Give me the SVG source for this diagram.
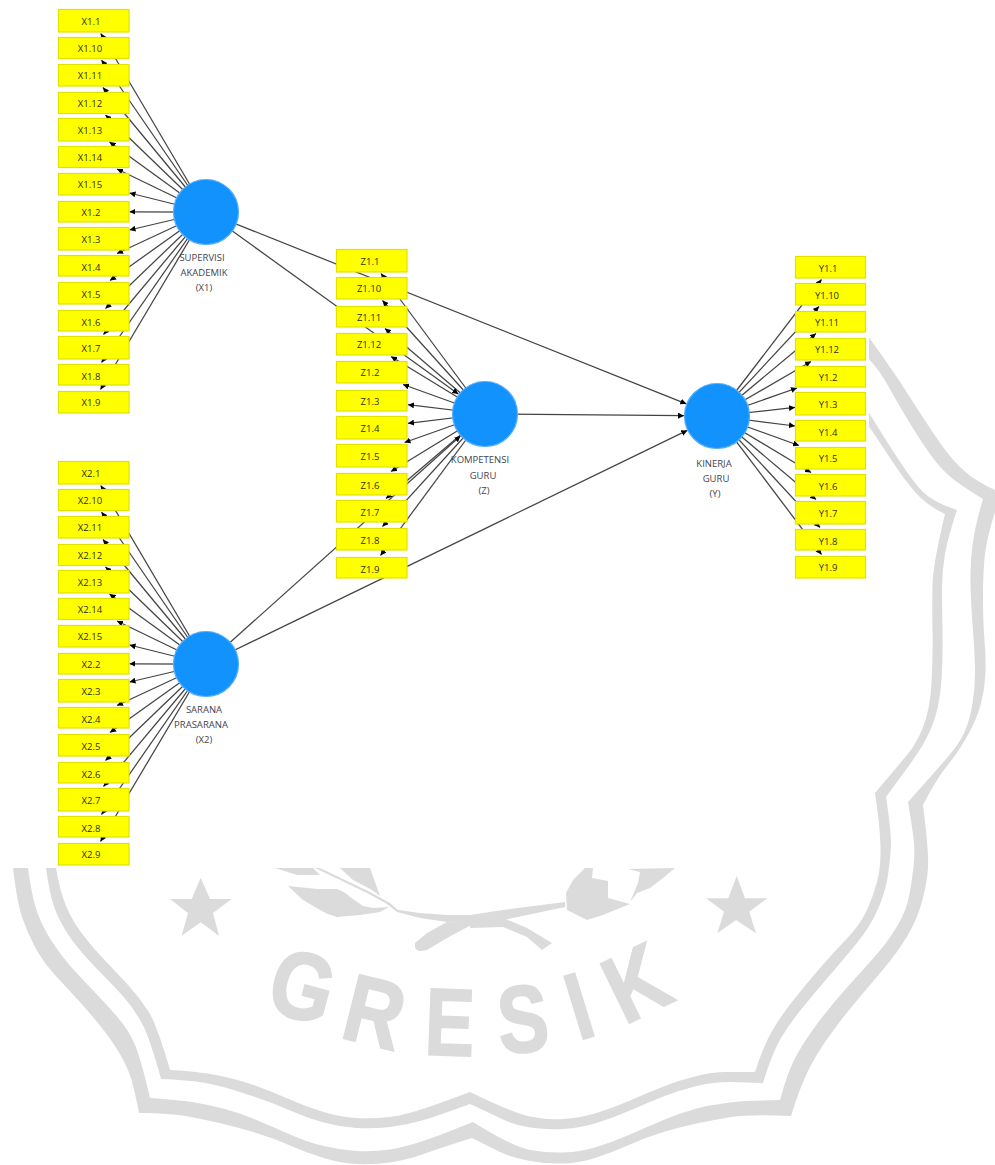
<svg xmlns="http://www.w3.org/2000/svg" width="995" height="1165" viewBox="0 0 995 1165">
<style>
.wm{fill:#dcdbdc;stroke:none}
.wt{font-family:"Liberation Sans",Arial,sans-serif;font-weight:700;font-size:95px;fill:#dcdbdc;stroke:#dcdbdc;stroke-width:2;text-anchor:middle}
.c line{stroke:#444;stroke-width:1.25;marker-end:url(#a)}
.n rect{fill:#ffff00;stroke:#e2e200;stroke-width:1.2}
.n circle{fill:#1292fd;stroke:#58aefc;stroke-width:1.2}
.n text{font-family:"Open Sans","Noto Sans",sans-serif;font-size:9.5px;fill:#2e2e14;text-anchor:middle}
.n text.l{fill:#44444f}
</style>
<defs>
<marker id="a" markerUnits="userSpaceOnUse" markerWidth="7" markerHeight="6" refX="6" refY="3" orient="auto"><path d="M0 0L6 3L0 6Z" fill="#000"/></marker>
</defs>
<g id="watermark">
<path class="wm" d="M13 868Q17 902 22 917Q27 932 35 947Q43 962 55 975Q67 988 78.5 1000.5Q90 1013 101.5 1027.5Q113 1042 120.5 1055Q128 1068 131.5 1080Q135 1092 139 1113Q170 1113 188.5 1116.5Q207 1120 223.5 1124Q240 1128 256.5 1133Q273 1138 290 1145.5Q307 1153 323.5 1158Q340 1163 356.5 1164Q373 1165 390 1162.5Q407 1160 423.5 1154Q440 1148 472 1138L500 1152Q513 1158 530 1161Q547 1164 563.5 1163.5Q580 1163 596.5 1157.5Q613 1152 630 1144.5Q647 1137 663.5 1132Q680 1127 696.5 1123.5Q713 1120 731.5 1117Q750 1114 791 1116Q800 1087 808.5 1070Q817 1053 830 1035Q843 1017 856.5 1001Q870 985 883.5 969Q897 953 907 936.5Q917 920 922 901.5Q927 883 928 868Q929 853 923 805Q937 778 947 766Q957 754 967 736.5Q977 719 981 703.5Q985 688 985.5 672.5Q986 657 984.5 640Q983 623 983 597Q983 571 985 554Q987 537 995 512L995 490Q977 482 965 471.5Q953 461 943 447Q933 433 923 417.5Q913 402 903 386.5Q893 371 869 337.6L869 359Q880 371 888.5 386.5Q897 402 908.5 421Q920 440 930 454Q940 468 950 476.5Q960 485 983 499Q975 526 972.5 545Q970 564 970.5 584.5Q971 605 973 631Q975 657 975 672.5Q975 688 972.5 703.5Q970 719 965 731Q960 743 946.5 758.5Q933 774 908 802Q912 826 913.5 838Q915 850 914 861.5Q913 873 910 891.5Q907 910 897 926.5Q887 943 873.5 958Q860 973 846.5 988Q833 1003 820 1020Q807 1037 797.5 1053.5Q788 1070 780 1100L745 1101Q713 1104 696.5 1108.5Q680 1113 663.5 1120Q647 1127 630 1134.5Q613 1142 596.5 1147Q580 1152 563.5 1152.5Q547 1153 530 1150Q513 1147 473 1122L440 1135Q407 1147 390 1149.5Q373 1152 356.5 1151Q340 1150 323.5 1146Q307 1142 290 1134.5Q273 1127 256.5 1120Q240 1113 225 1109Q210 1105 195 1102.5Q180 1100 150 1098Q140 1055 133.5 1041.5Q127 1028 117 1016.5Q107 1005 95 992.5Q83 980 73 969Q63 958 53 943Q43 928 37.5 913Q32 898 28 868Z"/>
<path class="wm" d="M46 868Q50 898 56.5 913Q63 928 73 941.5Q83 955 96.5 968.5Q110 982 121.5 994.5Q133 1007 141.5 1022.5Q150 1038 161 1079Q187 1080 202 1082.5Q217 1085 228.5 1088.5Q240 1092 256.5 1097.5Q273 1103 290 1110.5Q307 1118 323.5 1122.5Q340 1127 356.5 1128Q373 1129 390 1127Q407 1125 423.5 1120Q440 1115 470 1104L500 1118Q513 1125 530 1127.5Q547 1130 563.5 1129Q580 1128 596.5 1123Q613 1118 630 1110.5Q647 1103 663.5 1096.5Q680 1090 696.5 1086Q713 1082 730 1082L763 1083Q772 1053 781 1038Q790 1023 803.5 1006.5Q817 990 830 975Q843 960 856.5 943.5Q870 927 877.5 910Q885 893 887.5 878Q890 863 891 845Q891 829 886 797L905 771Q913 760.5 921.5 747Q930 733 935 717.5Q940 702 941.5 679.5Q943 657 942.5 631Q942 605 942 588Q942 571 945 554Q948 537 957 510Q933 502 923 492Q913 481.5 901.5 464Q890 447 869 412.7L869 426.4Q883 447 893 462.5Q903 478 915 492Q927 505.6 945 514Q933 564 932.5 584.5Q932 605 932.5 631Q933 657 931.5 683Q930 709 923.5 726Q917 743 907 755Q897 767 875 793Q880 826 880.5 846.5Q881 867 877 882Q873 897 866.5 911Q860 925 846.5 939Q833 953 820 968Q807 983 793.5 1000Q780 1017 771.5 1032Q763 1047 755 1072L725 1072Q713 1072 696.5 1076Q680 1080 663.5 1086.5Q647 1093 630 1100.5Q613 1108 596.5 1113Q580 1118 563.5 1119Q547 1120 530 1116.5Q513 1113 470 1092L440 1103Q407 1115 390 1117Q373 1119 356.5 1118Q340 1117 323.5 1112Q307 1107 290 1099.5Q273 1092 256.5 1086Q240 1080 218.5 1075.5Q197 1071 170 1070Q157 1025 148.5 1011.5Q140 998 128.5 985.5Q117 973 105 960.5Q93 948 83 935Q73 922 66.5 907Q60 892 56 868Z"/>
<polygon class="wm" points="200.7,877.7 210,899 231.7,899 213,913 219,935.7 200.7,922.3 181.7,935.7 188,913 170,899 191.7,899"/>
<polygon class="wm" points="736.7,876 745,898.3 767.3,898.3 749.3,911.7 756,933.3 736,920 717.3,933.3 724,911.7 706,898.3 728.3,898.3"/>
<path class="wm" d="M288 886L317 889L337 889Q345 892 350 897L363 906L373 908L389 907L380 912L360 915L337 917Q328 915 320 910L303 900Z"/>
<polygon class="wm" points="275,868 313,868 320,875 297,875"/>
<polygon class="wm" points="340,868 370,868 380,896 372,890 353,880"/>
<path class="wm" d="M315 868L320 868L370 892L390 903L398 910L420 913L447 915L470 915L503 910L565 902L565 907L513 918L490 923L473 925L447 922L420 918L397 912L387 904L367 893Z"/>
<path class="wm" d="M585 868L573 880L566 893L567 910L587 920L603 915L630 904L608 898L608 881L592 878L593 868Z"/>
<polygon class="wm" points="628,869 640,872 638,883 630,902 637,893 650,888 663,878 675,868"/>
<path class="wm" d="M473 924L447 922L427 933L415 943Q414 952 421 951L427 950L447 938Z"/>
<path class="wm" d="M470 920L503 918L527 928L552 943L542 950L527 937L503 927L470 928Z"/>
<text class="wt" transform="translate(303,985) rotate(15) scale(.85,1)" y="34">G</text>
<text class="wt" transform="translate(375,1011) rotate(14) scale(.85,1)" y="34">R</text>
<text class="wt" transform="translate(450,1021) rotate(2) scale(.78,1)" y="34">E</text>
<text class="wt" transform="translate(522.7,1018) rotate(-5) scale(.8,1)" y="34">S</text>
<text class="wt" transform="translate(578.7,1005) rotate(-17) scale(.8,1)" y="34">I</text>
<text class="wt" transform="translate(635.7,982) rotate(-26) scale(.85,1)" y="34">K</text>
</g>
<rect id="backdrop" x="0" y="0" width="869" height="868" fill="#fff"/>
<g id="connectors" class="c">
<line x1="206" y1="212" x2="100.8" y2="33.5"/><line x1="206" y1="212" x2="101.5" y2="60"/><line x1="206" y1="212" x2="103" y2="87.5"/><line x1="206" y1="212" x2="105.5" y2="115"/><line x1="206" y1="212" x2="109.5" y2="142"/><line x1="206" y1="212" x2="117" y2="169"/><line x1="206" y1="212" x2="129.5" y2="193"/><line x1="206" y1="212" x2="129.5" y2="211.8"/><line x1="206" y1="212" x2="129.5" y2="230"/><line x1="206" y1="212" x2="117" y2="253.5"/><line x1="206" y1="212" x2="110" y2="280.5"/><line x1="206" y1="212" x2="105.5" y2="308.5"/><line x1="206" y1="212" x2="103.5" y2="334.5"/><line x1="206" y1="212" x2="101.5" y2="362.5"/><line x1="206" y1="212" x2="100.5" y2="389.5"/>
<line x1="206" y1="664" x2="100.8" y2="485.5"/><line x1="206" y1="664" x2="101.5" y2="512"/><line x1="206" y1="664" x2="103" y2="539.5"/><line x1="206" y1="664" x2="105.5" y2="567"/><line x1="206" y1="664" x2="109.5" y2="594"/><line x1="206" y1="664" x2="117" y2="621"/><line x1="206" y1="664" x2="129.5" y2="645"/><line x1="206" y1="664" x2="129.5" y2="663.8"/><line x1="206" y1="664" x2="129.5" y2="682"/><line x1="206" y1="664" x2="117" y2="705.5"/><line x1="206" y1="664" x2="110" y2="732.5"/><line x1="206" y1="664" x2="105.5" y2="760.5"/><line x1="206" y1="664" x2="103.5" y2="786.5"/><line x1="206" y1="664" x2="101.5" y2="814.5"/><line x1="206" y1="664" x2="100.5" y2="841.5"/>
<line x1="485" y1="414" x2="381" y2="273.5"/><line x1="485" y1="414" x2="382.5" y2="300.5"/><line x1="485" y1="414" x2="385" y2="328.5"/><line x1="485" y1="414" x2="391" y2="356.5"/><line x1="485" y1="414" x2="403" y2="384.5"/><line x1="485" y1="414" x2="408" y2="404.7"/><line x1="485" y1="414" x2="408" y2="423.3"/><line x1="485" y1="414" x2="404.5" y2="442.5"/><line x1="485" y1="414" x2="391" y2="471.5"/><line x1="485" y1="414" x2="386" y2="498.5"/><line x1="485" y1="414" x2="382.5" y2="526.5"/><line x1="485" y1="414" x2="380.5" y2="555.5"/>
<line x1="717" y1="416" x2="821.5" y2="279.5"/><line x1="717" y1="416" x2="819" y2="306.5"/><line x1="717" y1="416" x2="816" y2="333.5"/><line x1="717" y1="416" x2="811" y2="361.5"/><line x1="717" y1="416" x2="797" y2="388"/><line x1="717" y1="416" x2="795" y2="407.4"/><line x1="717" y1="416" x2="795" y2="426"/><line x1="717" y1="416" x2="799" y2="445.5"/><line x1="717" y1="416" x2="811" y2="472.5"/><line x1="717" y1="416" x2="816" y2="499.5"/><line x1="717" y1="416" x2="820" y2="527.5"/><line x1="717" y1="416" x2="821.5" y2="554.5"/>
<line x1="206" y1="212" x2="458.3" y2="394"/><line x1="206" y1="664" x2="460.4" y2="436"/><line x1="206" y1="212" x2="686.3" y2="403.8"/><line x1="485" y1="414" x2="684" y2="415.7"/><line x1="206" y1="664" x2="687.3" y2="430.4"/>
</g>
<g id="x1-items" class="n">
<g id="X1.1"><rect x="58.5" y="9.5" width="70.5" height="22.5"/><text x="91" y="25">X1.1</text></g>
<g id="X1.10"><rect x="58.5" y="37.5" width="70.5" height="21"/><text x="90" y="52">X1.10</text></g>
<g id="X1.11"><rect x="58.5" y="64.5" width="70.5" height="21.5"/><text x="90" y="79">X1.11</text></g>
<g id="X1.12"><rect x="58.5" y="92.5" width="70.5" height="21"/><text x="90" y="107">X1.12</text></g>
<g id="X1.13"><rect x="58.5" y="118.5" width="70.5" height="22.5"/><text x="90" y="134">X1.13</text></g>
<g id="X1.14"><rect x="58.5" y="146.5" width="70.5" height="21"/><text x="90" y="161">X1.14</text></g>
<g id="X1.15"><rect x="58.5" y="173.5" width="70.5" height="21.5"/><text x="90" y="188">X1.15</text></g>
<g id="X1.2"><rect x="58.5" y="201.5" width="70.5" height="20.5"/><text x="91" y="216">X1.2</text></g>
<g id="X1.3"><rect x="58.5" y="227.5" width="70.5" height="22.5"/><text x="91" y="243">X1.3</text></g>
<g id="X1.4"><rect x="58.5" y="255.5" width="70.5" height="20.5"/><text x="91" y="271">X1.4</text></g>
<g id="X1.5"><rect x="58.5" y="282.5" width="70.5" height="21.5"/><text x="91" y="298">X1.5</text></g>
<g id="X1.6"><rect x="58.5" y="310.5" width="70.5" height="20.5"/><text x="91" y="326">X1.6</text></g>
<g id="X1.7"><rect x="58.5" y="336.5" width="70.5" height="22.5"/><text x="91" y="352">X1.7</text></g>
<g id="X1.8"><rect x="58.5" y="364.5" width="70.5" height="20.5"/><text x="91" y="380">X1.8</text></g>
<g id="X1.9"><rect x="58.5" y="391.5" width="70.5" height="21.5"/><text x="91" y="406">X1.9</text></g>
</g>
<g id="x2-items" class="n">
<g id="X2.1"><rect x="58.5" y="461.5" width="70.5" height="22.5"/><text x="91" y="477">X2.1</text></g>
<g id="X2.10"><rect x="58.5" y="489.5" width="70.5" height="21"/><text x="90" y="504">X2.10</text></g>
<g id="X2.11"><rect x="58.5" y="516.5" width="70.5" height="21.5"/><text x="90" y="531">X2.11</text></g>
<g id="X2.12"><rect x="58.5" y="544.5" width="70.5" height="21"/><text x="90" y="559">X2.12</text></g>
<g id="X2.13"><rect x="58.5" y="570.5" width="70.5" height="22.5"/><text x="90" y="586">X2.13</text></g>
<g id="X2.14"><rect x="58.5" y="598.5" width="70.5" height="21"/><text x="90" y="613">X2.14</text></g>
<g id="X2.15"><rect x="58.5" y="625.5" width="70.5" height="21.5"/><text x="90" y="640">X2.15</text></g>
<g id="X2.2"><rect x="58.5" y="653.5" width="70.5" height="20.5"/><text x="91" y="668">X2.2</text></g>
<g id="X2.3"><rect x="58.5" y="679.5" width="70.5" height="22.5"/><text x="91" y="695">X2.3</text></g>
<g id="X2.4"><rect x="58.5" y="707.5" width="70.5" height="20.5"/><text x="91" y="723">X2.4</text></g>
<g id="X2.5"><rect x="58.5" y="734.5" width="70.5" height="21.5"/><text x="91" y="750">X2.5</text></g>
<g id="X2.6"><rect x="58.5" y="762.5" width="70.5" height="20.5"/><text x="91" y="778">X2.6</text></g>
<g id="X2.7"><rect x="58.5" y="788.5" width="70.5" height="22.5"/><text x="91" y="804">X2.7</text></g>
<g id="X2.8"><rect x="58.5" y="816.5" width="70.5" height="20.5"/><text x="91" y="832">X2.8</text></g>
<g id="X2.9"><rect x="58.5" y="843.5" width="70.5" height="21.5"/><text x="91" y="858">X2.9</text></g>
</g>
<g id="z-items" class="n">
<g id="Z1.1"><rect x="336.5" y="249.5" width="70.5" height="22.5"/><text x="370" y="265">Z1.1</text></g>
<g id="Z1.10"><rect x="336.5" y="277.5" width="70.5" height="21.5"/><text x="369" y="292">Z1.10</text></g>
<g id="Z1.11"><rect x="336.5" y="306.5" width="70.5" height="20.5"/><text x="369" y="321">Z1.11</text></g>
<g id="Z1.12"><rect x="336.5" y="333.5" width="70.5" height="21.5"/><text x="369" y="348">Z1.12</text></g>
<g id="Z1.2"><rect x="336.5" y="361.5" width="70.5" height="21.5"/><text x="370" y="376">Z1.2</text></g>
<g id="Z1.3"><rect x="336.5" y="390.5" width="70.5" height="20.5"/><text x="370" y="405">Z1.3</text></g>
<g id="Z1.4"><rect x="336.5" y="416.5" width="70.5" height="22.5"/><text x="370" y="432">Z1.4</text></g>
<g id="Z1.5"><rect x="336.5" y="444.5" width="70.5" height="22.5"/><text x="370" y="460">Z1.5</text></g>
<g id="Z1.6"><rect x="336.5" y="473.5" width="70.5" height="21.5"/><text x="370" y="489">Z1.6</text></g>
<g id="Z1.7"><rect x="336.5" y="500.5" width="70.5" height="21.5"/><text x="370" y="516">Z1.7</text></g>
<g id="Z1.8"><rect x="336.5" y="528.5" width="70.5" height="21.5"/><text x="370" y="544">Z1.8</text></g>
<g id="Z1.9"><rect x="336.5" y="557.5" width="70.5" height="20.5"/><text x="370" y="573">Z1.9</text></g>
</g>
<g id="y-items" class="n">
<g id="Y1.1"><rect x="795.5" y="256.5" width="70" height="21.5"/><text x="828" y="272">Y1.1</text></g>
<g id="Y1.10"><rect x="795.5" y="283.5" width="70" height="21.5"/><text x="827" y="299">Y1.10</text></g>
<g id="Y1.11"><rect x="795.5" y="311.5" width="70" height="20.5"/><text x="827" y="326">Y1.11</text></g>
<g id="Y1.12"><rect x="795.5" y="338.5" width="70" height="21.5"/><text x="827" y="353">Y1.12</text></g>
<g id="Y1.2"><rect x="795.5" y="366.5" width="70" height="20.5"/><text x="828" y="381">Y1.2</text></g>
<g id="Y1.3"><rect x="795.5" y="392.5" width="70" height="22.5"/><text x="828" y="408">Y1.3</text></g>
<g id="Y1.4"><rect x="795.5" y="420.5" width="70" height="20.5"/><text x="828" y="436">Y1.4</text></g>
<g id="Y1.5"><rect x="795.5" y="447.5" width="70" height="21.5"/><text x="828" y="462">Y1.5</text></g>
<g id="Y1.6"><rect x="795.5" y="474.5" width="70" height="21.5"/><text x="828" y="490">Y1.6</text></g>
<g id="Y1.7"><rect x="795.5" y="501.5" width="70" height="22.5"/><text x="828" y="517">Y1.7</text></g>
<g id="Y1.8"><rect x="795.5" y="529.5" width="70" height="20.5"/><text x="828" y="545">Y1.8</text></g>
<g id="Y1.9"><rect x="795.5" y="556.5" width="70" height="21.5"/><text x="828" y="571">Y1.9</text></g>
</g>
<g id="X1" class="n"><circle cx="206" cy="212" r="32.5"/><text class="l" x="202" y="261">SUPERVISI</text><text class="l" x="204" y="276">AKADEMIK</text><text class="l" x="204" y="291">(X1)</text></g>
<g id="X2" class="n"><circle cx="206" cy="664" r="32.5"/><text class="l" x="204" y="713">SARANA</text><text class="l" x="201" y="728">PRASARANA</text><text class="l" x="204" y="743">(X2)</text></g>
<g id="Z" class="n"><circle cx="485" cy="414" r="32.5"/><text class="l" x="480" y="463">KOMPETENSI</text><text class="l" x="483" y="479">GURU</text><text class="l" x="484" y="494">(Z)</text></g>
<g id="Y" class="n"><circle cx="717" cy="416" r="32.5"/><text class="l" x="714" y="467">KINERJA</text><text class="l" x="716" y="482">GURU</text><text class="l" x="715" y="497">(Y)</text></g>
</svg>
